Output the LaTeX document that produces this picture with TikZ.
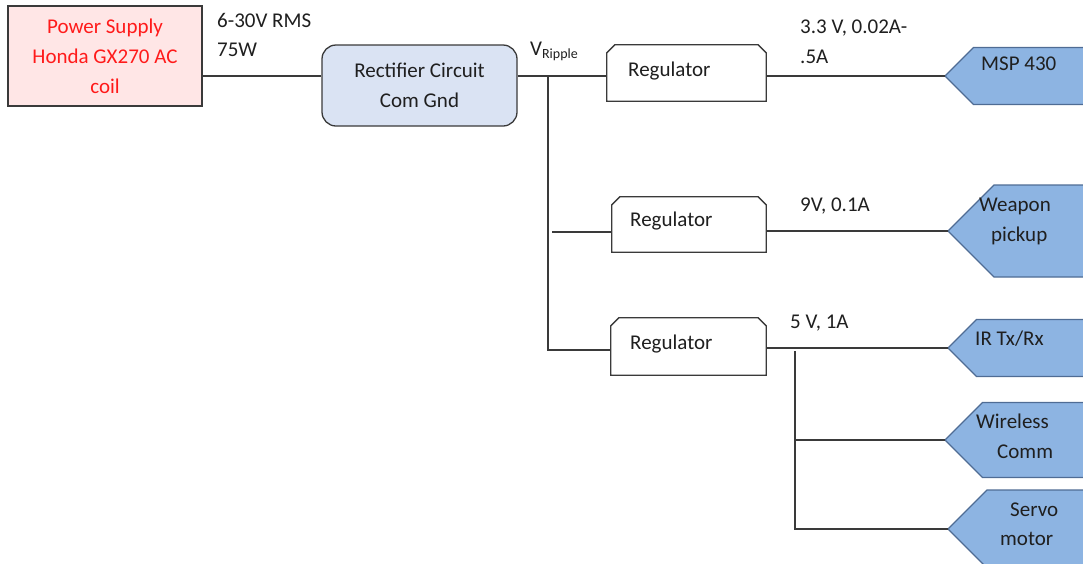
\documentclass[tikz,border=0pt]{standalone}
\usepackage{fontspec}
\setmainfont{Carlito}
\definecolor{ink}{HTML}{1F1F1F}
\definecolor{ln}{HTML}{3A3A3A}
\definecolor{psfill}{HTML}{FFE6E6}
\definecolor{psred}{HTML}{FF1A1A}
\definecolor{rectfill}{HTML}{DAE3F3}
\definecolor{devfill}{HTML}{8DB4E2}
\definecolor{devline}{HTML}{4F6C94}
\begin{document}
\begin{tikzpicture}[x=1pt,y=-1pt,
  every node/.style={font=\fontsize{21}{30}\selectfont, text=ink, inner sep=0pt},
  conn/.style={draw=ln, line width=1.3pt},
  psbox/.style={draw=ln, line width=1.3pt, fill=psfill, minimum width=194pt, minimum height=100pt},
  rectbox/.style={draw=ln, line width=1.3pt, fill=rectfill, rounded corners=14pt, minimum width=195pt, minimum height=81pt},
  regbox/.style={draw=none, fill=none},
  regline/.style={draw=ln, line width=1.3pt, fill=white, line join=miter},
  devshape/.style={draw=devline, line width=1.2pt, fill=devfill},
  lbl/.style={anchor=base west},
]
\useasboundingbox (0,0) rectangle (1083,563);
\clip (0,0) rectangle (1083,563);

% boxes
\node[psbox, text=psred, align=center] (ps) at (105,56) {Power Supply\\Honda GX270 AC\\coil};
\node[rectbox, align=center] (rect) at (419.5,85.5) {Rectifier Circuit\\Com Gnd};
\node[regbox, minimum width=159pt, minimum height=56pt] (reg1) at (686.5,73) {};
\node[regbox, minimum width=154pt, minimum height=55pt] (reg2) at (689,224.5) {};
\node[regbox, minimum width=155pt, minimum height=57pt] (reg3) at (688.5,346.5) {};
\foreach \r in {reg1,reg2,reg3}{
  \path[regline] (\r.south west) -- ([yshift=-8pt]\r.north west) -- ([xshift=8pt]\r.north west)
    -- ([xshift=-8pt]\r.north east) -- ([yshift=-8pt]\r.north east) -- (\r.south east) -- cycle;
}
\node[lbl] (reg1t) at (628,76) {Regulator};
\node[lbl] (reg2t) at (630,226) {Regulator};
\node[lbl] (reg3t) at (630,349) {Regulator};

% device shapes (tips)
\coordinate (msp) at (945,76);
\coordinate (weapon) at (948,231);
\coordinate (ir) at (948,348);
\coordinate (wireless) at (945,440);
\coordinate (servo) at (948,529);
\path[devshape] (msp) -- ++(28.5,-28.5) -- ++(200,0) -- ++(0,57) -- ++(-200,0) -- cycle;
\path[devshape] (weapon) -- ++(46,-46) -- ++(200,0) -- ++(0,92) -- ++(-200,0) -- cycle;
\path[devshape] (ir) -- ++(28.5,-28.5) -- ++(200,0) -- ++(0,57) -- ++(-200,0) -- cycle;
\path[devshape] (wireless) -- ++(37.5,-37.5) -- ++(200,0) -- ++(0,75) -- ++(-200,0) -- cycle;
\path[devshape] (servo) -- ++(39,-39) -- ++(200,0) -- ++(0,78) -- ++(-200,0) -- cycle;
\node[lbl] (mspt) at (981,70) {MSP 430};
\node[lbl] (weapt1) at (979,211) {Weapon};
\node[lbl] (weapt2) at (991,241) {pickup};
\node[lbl] (irt) at (975,345) {IR Tx/Rx};
\node[lbl] (wirt1) at (976,428) {Wireless};
\node[lbl] (wirt2) at (997,458) {Comm};
\node[lbl] (servt1) at (1010,516) {Servo};
\node[lbl] (servt2) at (1000,545) {motor};

% connectors
\coordinate (bus) at (548,76);
\coordinate (busend) at (548,350);
\coordinate (tap2) at (552,232);
\coordinate (split) at (795,351);
\coordinate (splitend) at (795,529);
\draw[conn] (ps.east |- bus) -- (rect.west |- bus);
\draw[conn] (rect.east |- bus) -- (reg1.west |- bus);
\draw[conn] (bus) -- (busend) -- (reg3.west |- busend);
\draw[conn] (tap2) -- (reg2.west |- tap2);
\draw[conn] (reg1.east |- msp) -- (msp);
\draw[conn] (reg2.east |- weapon) -- (weapon);
\draw[conn] (reg3.east |- ir) -- (ir);
\draw[conn] (split) -- (splitend) -- (servo);
\draw[conn] (split |- wireless) -- (wireless);

% labels
\node[lbl] (l1a) at (217,27) {6-30V RMS};
\node[lbl] (l1b) at (217,56) {75W};
\node[lbl] (vr) at (530,55) {V\raisebox{-3pt}{\fontsize{14}{14}\selectfont Ripple}};
\node[lbl] (l2a) at (800,33) {3.3 V, 0.02A-};
\node[lbl] (l2b) at (800,63) {.5A};
\node[lbl] (l3) at (800,211) {9V, 0.1A};
\node[lbl] (l4) at (790,328) {5 V, 1A};
\end{tikzpicture}
\end{document}
